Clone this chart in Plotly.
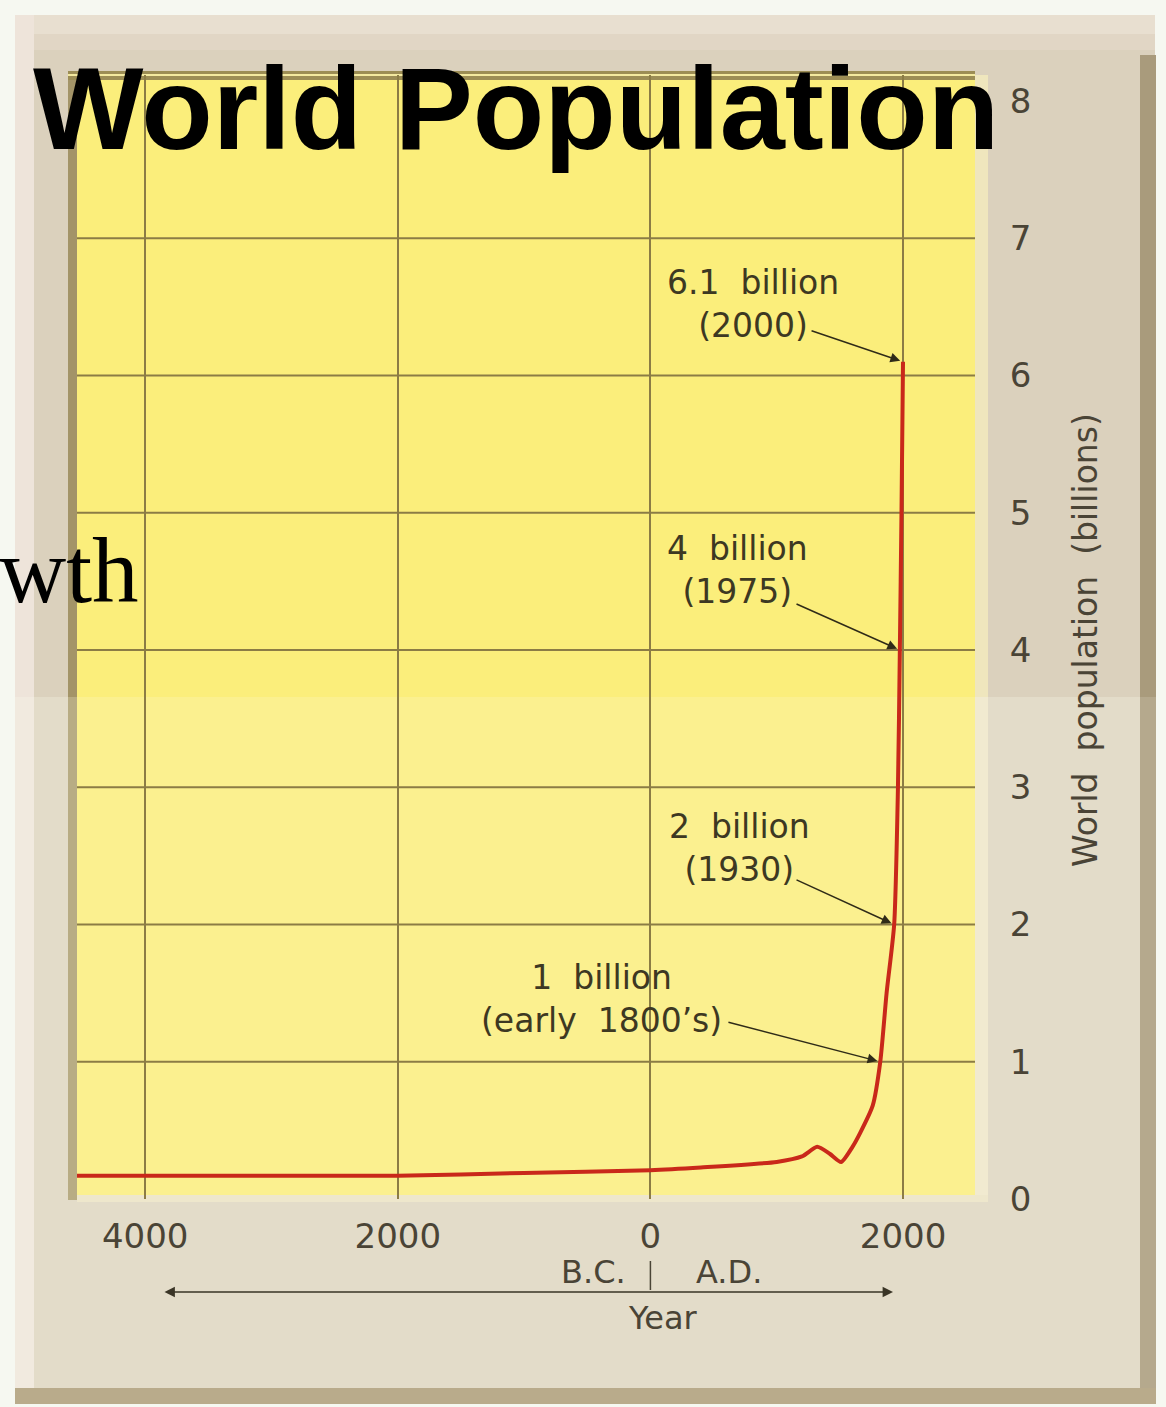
import plotly.graph_objects as go

# ---- data -------------------------------------------------------------
years = [-4540, -4000, -3000, -2000, -1000, 0, 400, 1000, 1200, 1320, 1420,
         1510, 1600, 1660, 1760, 1820, 1870, 1930, 1960, 1975, 1988, 2000]
population = [0.17, 0.17, 0.17, 0.17, 0.19, 0.21, 0.23, 0.27, 0.31, 0.38, 0.33,
              0.27, 0.38, 0.48, 0.68, 1.0, 1.5, 2.0, 3.0, 4.0, 5.0, 6.1]

x_tick_vals = [-4000, -2000, 0, 2000]
x_tick_text = ["4000", "2000", "0", "2000"]
y_tick_vals = [0, 1, 2, 3, 4, 5, 6, 7, 8]
y_grid_vals = [1, 2, 3, 4, 5, 6, 7]

# milestone labels: (year, population, label)
milestones = [
    (2000, 6.1, "6.1\u00a0\u00a0billion<br>(2000)"),
    (1975, 4.0, "4\u00a0\u00a0billion<br>(1975)"),
    (1930, 2.0, "2\u00a0\u00a0billion<br>(1930)"),
    (1820, 1.0, "1\u00a0\u00a0billion<br>(early\u00a0\u00a01800\u2019s)"),
]
# where each label sits and where its arrow starts (year, billions)
label_pos = [(812, 6.52), (693, 4.58), (709, 2.56), (-391, 1.46)]
arrow_tail = [(1264, 6.33), (1145, 4.34), (1145, 2.33), (606, 1.29)]

X_RANGE = [-4540, 2570]
Y_RANGE = [0, 8.19]

W, H = 1166, 1407
L, R, T, B = 77, 975, 75, 1199   # plot area edges in pixels

INK = "#3d3822"
TICK = "#4a4436"
FONT = "DejaVu Sans"


def fx(px):
    return (px - L) / (R - L)


def fy(py):
    return (B - py) / (B - T)


def rect(x0, y0, x1, y1, color):
    return dict(type="rect", xref="paper", yref="paper", layer="below",
                x0=fx(x0), x1=fx(x1), y0=fy(y1), y1=fy(y0),
                fillcolor=color, line=dict(width=0))


def note(text, px, py, size=32, **extra):
    d = dict(text=text, xref="paper", yref="paper", x=fx(px), y=fy(py),
             xanchor="center", yanchor="middle", showarrow=False,
             font=dict(family=FONT, size=size, color=TICK))
    d.update(extra)
    return d


shapes = [
    # beige mount
    rect(15, 15, 1155, 697, "#dbd1bd"),
    rect(15, 697, 1155, 1398, "#e3dcc9"),
    rect(15, 15, 1155, 34, "#e8dfd0"),
    rect(15, 34, 1155, 50, "#e1d6c5"),
    rect(15, 15, 34, 697, "#eee4da"),
    rect(15, 697, 34, 1398, "#f1eadf"),
    rect(1140, 55, 1156, 697, "#a99b7c"),
    rect(1140, 697, 1156, 1398, "#b5a98d"),
    rect(15, 1388, 1156, 1404, "#b9ab8b"),
    # yellow chart panel
    rect(68, 72, 77, 697, "#a39468"),
    rect(68, 697, 77, 1200, "#b8ac84"),
    rect(77, 75, 975, 697, "#fbee7b"),
    rect(77, 697, 975, 1196, "#fbf08f"),
    rect(975, 75, 988, 697, "#efe6bd"),
    rect(975, 697, 988, 1200, "#f1ead0"),
    rect(77, 1195, 988, 1202, "#eee7cc"),
    rect(68, 71, 975, 80, "#9c8d55"),
    rect(68, 74, 975, 76, "#f3e9a0"),
]

# horizontal grid lines
for v in y_grid_vals:
    shapes.append(dict(type="line", xref="paper", yref="y", layer="below",
                       x0=0, x1=1, y0=v, y1=v,
                       line=dict(color="#8b7c45", width=2)))

# small divider between B.C. and A.D.
shapes.append(dict(type="line", xref="x", yref="paper", x0=0, x1=0,
                   y0=fy(1290), y1=fy(1261),
                   line=dict(color=TICK, width=1.5)))

fig = go.Figure()
fig.add_trace(go.Scatter(
    x=years, y=population, mode="lines",
    line=dict(color="#c9281a", width=4, shape="spline", smoothing=0.6),
    hoverinfo="skip", showlegend=False,
))

annotations = [
    dict(text="World Population", xref="paper", yref="paper",
         x=fx(31), y=fy(108), xanchor="left", yanchor="middle",
         showarrow=False,
         font=dict(family="Liberation Sans", size=117, color="#000000",
                   weight="bold")),
    dict(text="wth", xref="paper", yref="paper",
         x=fx(141), y=fy(570), xanchor="right", yanchor="middle",
         showarrow=False,
         font=dict(family="Liberation Serif", size=93, color="#000000")),
    note("World\u00a0\u00a0population\u00a0\u00a0(billions)", 1085, 640,
         size=33, textangle=-90),
    note("B.C.", 593, 1272),
    note("A.D.", 729, 1272),
    note("Year", 663, 1318),
    # double-headed time arrow
    dict(text="", xref="paper", yref="paper", x=fx(893), y=fy(1292),
         ax=-(893 - 163), ay=0, showarrow=True, arrowside="end+start",
         arrowhead=2, arrowsize=1.3, arrowwidth=1.6, arrowcolor="#3a3526"),
]

for (yr, pop, label), (lx, ly), (tx, ty) in zip(milestones, label_pos, arrow_tail):
    annotations.append(dict(
        text=label, xref="x", yref="y", x=lx, y=ly, showarrow=False,
        xanchor="center", yanchor="middle",
        align="center", font=dict(family=FONT, size=33, color=INK)))
    annotations.append(dict(
        text="", xref="x", yref="y", x=yr, y=pop,
        axref="x", ayref="y", ax=tx, ay=ty, showarrow=True,
        arrowhead=2, arrowsize=1.3, arrowwidth=1.5, standoff=3,
        arrowcolor="#2f2b18"))

fig.update_layout(
    width=W, height=H, autosize=False,
    margin=dict(l=L, r=W - R, t=T, b=H - B, pad=0),
    paper_bgcolor="#f6f8f1",
    plot_bgcolor="rgba(0,0,0,0)",
    shapes=shapes,
    annotations=annotations,
    showlegend=False,
    xaxis=dict(
        range=X_RANGE, tickmode="array", tickvals=x_tick_vals,
        ticktext=x_tick_text, showgrid=True, gridcolor="#8b7c45",
        gridwidth=2, zeroline=False, showline=False,
        ticks="outside", ticklen=7, tickcolor="rgba(0,0,0,0)",
        tickfont=dict(family=FONT, size=34, color=TICK), fixedrange=True,
    ),
    yaxis=dict(
        range=Y_RANGE, side="right", tickmode="array", tickvals=y_tick_vals,
        showgrid=False, zeroline=False, showline=False,
        ticks="outside", ticklen=27, tickcolor="rgba(0,0,0,0)",
        tickfont=dict(family=FONT, size=34, color=TICK), fixedrange=True,
    ),
)

fig.write_html("out.html")
